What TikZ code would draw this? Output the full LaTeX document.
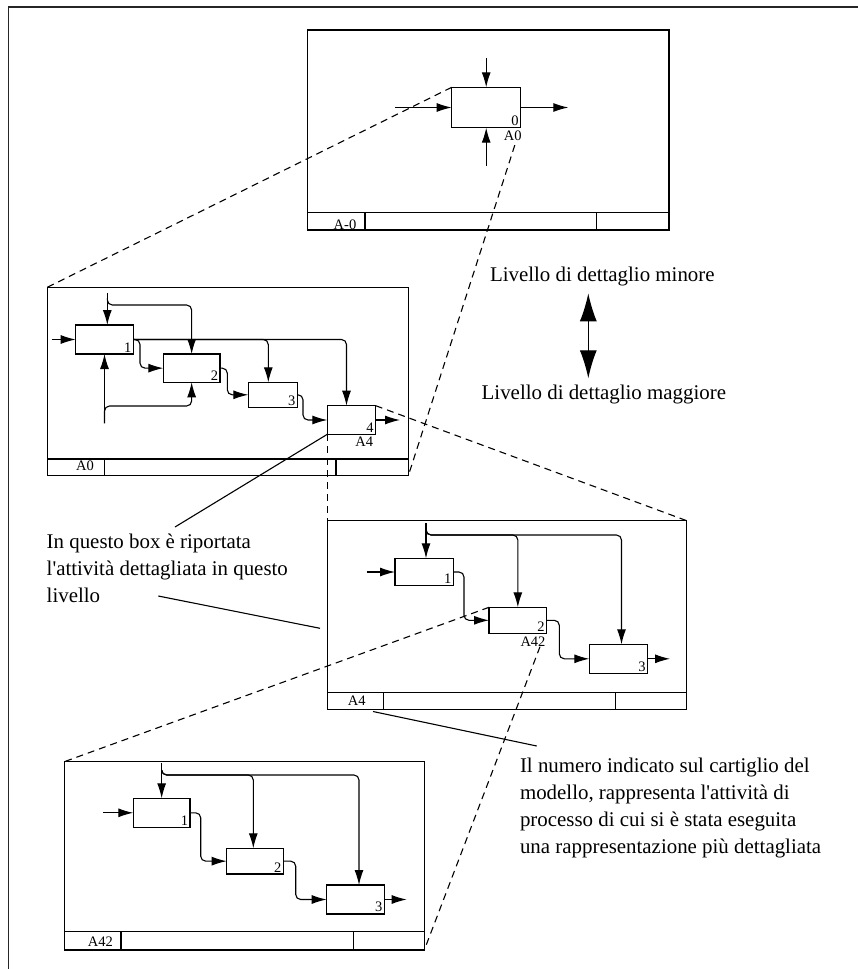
\documentclass[tikz,border=0pt]{standalone}
\usepackage{fontspec}
\setmainfont{Liberation Serif}[Ligatures=TeXOff]
\usetikzlibrary{arrows.meta,calc}
\begin{document}
\begin{tikzpicture}[x=1pt,y=-1pt,
  every node/.style={inner sep=0pt,outer sep=0pt},
  frame/.style={draw,line width=1.3pt,anchor=north west},
  bar/.style={line width=1.3pt},
  abox/.style={draw,line width=1.2pt,anchor=north west},
  lbl/.style={font=\fontsize{14.5}{16}\selectfont},
  num/.style={font=\fontsize{14.5}{16}\selectfont,anchor=south east,inner sep=2pt},
  big/.style={font=\fontsize{20.9}{27}\selectfont,anchor=base west},
  arr/.style={line width=1.1pt,-{Latex[length=15pt,width=9pt]},rounded corners=5pt},
  proj/.style={line width=1.1pt,dash pattern=on 7pt off 5pt},
  lead/.style={line width=1.1pt},
  dbl/.style={line width=1.2pt,{Latex[length=28pt,width=17pt]}-{Latex[length=28pt,width=17pt]}},
  outer/.style={line width=1.6pt,black!85}]
\useasboundingbox (0,0) rectangle (858,969);

% outer frame
\coordinate (oTL) at (8.5,7);
\coordinate (oBL) at (8.5,980);
\coordinate (oTR) at (870,7);
\draw[outer] (oBL) -- (oTL) -- (oTR);

% ---------------- A-0 diagram ----------------
\node[frame,minimum width=361.7pt,minimum height=200pt] (F0) at (307.3,30) {};
\draw[bar] (307.3,212.7) -- (669,212.7);
\draw[bar] (365,212.7) -- (365,230);
\draw[bar] (596.7,212.7) -- (596.7,230);
\node[lbl,anchor=base] (F0t) at (345,229) {A-0};

\node[abox,minimum width=69pt,minimum height=40.4pt] (B0) at (451.7,87.3) {};
\node[num] (B0n) at (B0.south east) {0};
\node[lbl,anchor=base] (B0r) at (512.8,140) {A0};
\coordinate (B0i) at (395,107.5);
\coordinate (B0c) at (486.2,58.3);
\coordinate (B0m) at (486.2,165.7);
\draw[arr] (B0i) -- (B0.west);
\draw[arr] (B0c) -- (B0.north);
\draw[arr] (B0m) -- (B0.south);
\draw[arr] (B0.east) -- ++(47.6,0);

% ---------------- A0 diagram ----------------
\node[frame,minimum width=361pt,minimum height=188.4pt] (F1) at (47.3,287.3) {};
\draw[bar] (47.3,459) -- (408.3,459);
\draw[bar] (104.3,459) -- (104.3,475.7);
\draw[bar] (336,459) -- (336,475.7);
\node[lbl,anchor=base] (F1t) at (85,470.7) {A0};

\node[abox,minimum width=57.6pt,minimum height=29pt] (A1) at (75.7,325) {};
\node[abox,minimum width=56.7pt,minimum height=28.3pt] (A2) at (163.3,354) {};
\node[abox,minimum width=49pt,minimum height=25pt] (A3) at (248.3,382.3) {};
\node[abox,minimum width=48.4pt,minimum height=28.6pt] (A4) at (327.3,405.7) {};
\node[num] (A1n) at (A1.south east) {1};
\node[num] (A2n) at (A2.south east) {2};
\node[num] (A3n) at (A3.south east) {3};
\node[num] (A4n) at (A4.south east) {4};
\node[lbl,anchor=base] (A4r) at (364.2,446.7) {A4};

\coordinate (A1i) at (51.7,339.5);
\coordinate (A1c) at (107.3,293.3);
\coordinate (A1cb) at (107.3,298);
\coordinate (A1m) at (104.5,423.3);
\draw[arr] (A1i) -- (A1.west);
\draw[arr] (A1c) -- (A1c |- A1.north);
\draw[arr] (A1cb) |- (A2.north |- 0,305) -- (A2.north);
\draw[arr] (A1m) -- (A1.south);
\draw[arr] (A1m) |- (A2.south |- 0,406) -- (A2.south);
\draw[arr] (A1.east) -| ([xshift=-5pt]A4.north);
\draw[arr] (A1.east) -| ([xshift=-4.5pt]A3.north);
\draw[arr] (A1.east) -| ([xshift=6.7pt]A1.east |- A2.west) -- (A2.west);
\draw[arr] (A2.east) -| ([xshift=7.3pt]A2.east |- A3.west) -- (A3.west);
\draw[arr] (A3.east) -| ([xshift=5.7pt]A3.east |- A4.west) -- (A4.west);
\draw[arr] (A4.east) -- ++(24.3,0);

% ---------------- A4 diagram ----------------
\node[frame,minimum width=359.4pt,minimum height=188.6pt] (F2) at (327.3,520.7) {};
\draw[bar] (327.3,692.3) -- (686.7,692.3);
\draw[bar] (383.3,692.3) -- (383.3,709.3);
\draw[bar] (615.7,692.3) -- (615.7,709.3);
\node[lbl,anchor=base] (F2t) at (356.7,705) {A4};

\node[abox,minimum width=58.3pt,minimum height=27.4pt] (C1) at (395,558.3) {};
\node[abox,minimum width=57.7pt,minimum height=26pt] (C2) at (489,607.3) {};
\node[abox,minimum width=58.4pt,minimum height=29pt] (C3) at (589.3,644.3) {};
\node[num] (C1n) at (C1.south east) {1};
\node[num] (C2n) at (C2.south east) {2};
\node[num] (C3n) at (C3.south east) {3};
\node[lbl,anchor=base] (C2r) at (533,646.7) {A42};

\coordinate (C1i) at (366.7,572);
\coordinate (C1c) at (426,523.3);
\coordinate (C1cb) at (426,530);
\draw[arr] (C1i) -- (C1.west);
\draw[arr] (C1c) -- (C1c |- C1.north);
\draw[arr] (C1cb) |- (C2.north |- 0,535) -- (C2.north);
\draw[arr] (C1cb) |- ([xshift=3pt]C3.north |- 0,535) -- ([xshift=3pt]C3.north);
\draw[arr] (C1.east) -| ([xshift=10.7pt]C1.east |- C2.west) -- (C2.west);
\draw[arr] (C2.east) -| ([xshift=12.6pt]C2.east |- C3.west) -- (C3.west);
\draw[arr] (C3.east) -- ++(22.3,0);

% ---------------- A42 diagram ----------------
\node[frame,minimum width=360pt,minimum height=188.3pt] (F3) at (64.3,761.7) {};
\draw[bar] (64.3,931.7) -- (424.3,931.7);
\draw[bar] (121,931.7) -- (121,950);
\draw[bar] (353.3,931.7) -- (353.3,950);
\node[lbl,anchor=base] (F3t) at (100.3,946.7) {A42};

\node[abox,minimum width=56.7pt,minimum height=29pt] (D1) at (133.3,798.3) {};
\node[abox,minimum width=56.6pt,minimum height=25.7pt] (D2) at (226.7,848.3) {};
\node[abox,minimum width=57.6pt,minimum height=29pt] (D3) at (326.7,885) {};
\node[num] (D1n) at (D1.south east) {1};
\node[num] (D2n) at (D2.south east) {2};
\node[num] (D3n) at (D3.south east) {3};

\coordinate (D1i) at (103.3,812.8);
\coordinate (D1c) at (161.65,763.3);
\coordinate (D1cb) at (161.65,770);
\draw[arr] (D1i) -- (D1.west);
\draw[arr] (D1c) -- (D1.north);
\draw[arr] (D1cb) |- ([xshift=-1.7pt]D2.north |- 0,775) -- ([xshift=-1.7pt]D2.north);
\draw[arr] (D1cb) |- ([xshift=3.5pt]D3.north |- 0,775) -- ([xshift=3.5pt]D3.north);
\draw[arr] (D1.east) -| ([xshift=10.7pt]D1.east |- D2.west) -- (D2.west);
\draw[arr] (D2.east) -| ([xshift=12.4pt]D2.east |- D3.west) -- (D3.west);
\draw[arr] (D3.east) -- ++(22.4,0);

% ---------------- projection lines ----------------
\draw[proj] (B0.north west) -- (F1.north west);
\draw[proj] ($(B0r.south)+(2,5)$) -- (F1.south east);
\draw[proj] (A4.north east) -- (F2.north east);
\draw[proj] (A4.south west) -- (F2.north west);
\draw[proj] (C2.north west) -- (F3.north west);
\draw[proj] ($(C2r.south)+(7,0)$) -- (F3.south east);

% ---------------- texts ----------------
\node[big] (lv1) at (490,281.7) {Livello di dettaglio minore};
\node[big] (lv2) at (481.7,399.3) {Livello di dettaglio maggiore};
\coordinate (dA) at (588.3,293.3);
\coordinate (dB) at (588.3,378.3);
\draw[dbl] (dA) -- (dB);

\node[big] (t1a) at (46.7,548.5) {In questo box è riportata};
\node[big] (t1b) at (46.7,575.5) {l'attività dettagliata in questo};
\node[big] (t1c) at (46.7,602.5) {livello};

\node[big] (t2a) at (520,772) {Il numero indicato sul cartiglio del};
\node[big] (t2b) at (520,799.2) {modello, rappresenta l'attività di};
\node[big] (t2c) at (520,826.4) {processo di cui si è stata eseguita};
\node[big] (t2d) at (520,853.6) {una rappresentazione più dettagliata};

% leaders
\coordinate (L1) at (175,527);
\coordinate (L2a) at (158.3,596);
\coordinate (L2b) at (320,628.3);
\coordinate (L3a) at (373,711.5);
\coordinate (L3b) at (536.7,746);
\draw[lead] (L1) -- (A4.south west);
\draw[lead] (L2a) -- (L2b);
\draw[lead] (L3a) -- (L3b);
\end{tikzpicture}
\end{document}
